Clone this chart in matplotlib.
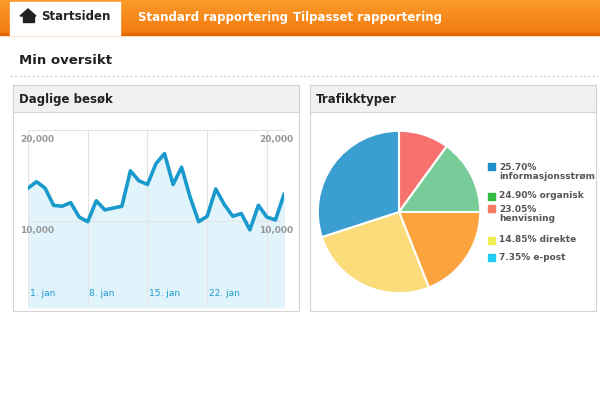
import numpy as np
import matplotlib
matplotlib.use("Agg")
import matplotlib.pyplot as plt
from matplotlib.patches import Rectangle, Polygon
from matplotlib.colors import LinearSegmentedColormap

days = list(range(1, 32))
visits = [13600, 14300, 13600, 11700, 11600, 12000, 10400, 9900, 12200, 11200, 11400, 11600,
          15500, 14400, 14000, 16300, 17400, 14000, 15900, 12600, 9900, 10500, 13500, 11800,
          10500, 10800, 9000, 11700, 10400, 10100, 12900]
date_ticks = [1, 8, 15, 22, 29]
date_labels = ["1. jan", "8. jan", "15. jan", "22. jan"]
slice_sizes = [10, 15, 19, 26, 30]
slice_colors = ["#f7716f", "#77cc99", "#fba33d", "#fbdc7a", "#3a9fd0"]
legend_labels = ["25.70%\ninformasjonsstrøm", "24.90% organisk", "23.05%\nhenvisning",
                 "14.85% direkte", "7.35% e-post"]
legend_colors = ["#1a8fcc", "#33bb44", "#f77b60", "#eeee55", "#22ccee"]
tabs = ["Startsiden", "Standard rapportering", "Tilpasset rapportering"]

fig = plt.figure(figsize=(6, 4), dpi=100)
bg = fig.add_axes([0, 0, 1, 1])
bg.set_xlim(0, 600); bg.set_ylim(400, 0); bg.axis("off")
grad = np.linspace(0, 1, 50).reshape(-1, 1)
cm = LinearSegmentedColormap.from_list("o", ["#fb9a2a", "#f27a0c"])
bg.imshow(grad, extent=[0, 600, 35, 0], cmap=cm, aspect="auto", zorder=0)
bg.add_patch(Rectangle((0, 35), 600, 365, color="white", zorder=0))
bg.add_patch(Rectangle((0, 33), 600, 2, color="#e06a00", zorder=1))
bg.add_patch(Rectangle((10, 2), 110, 33, color="white", zorder=2))
bg.add_patch(Polygon([[20, 16], [28, 9], [36, 16]], closed=True, color="#222", zorder=3))
bg.add_patch(Rectangle((22.5, 15), 11, 7, color="#222", zorder=3))
bg.text(41, 17, tabs[0], fontsize=8.5, fontweight="bold", color="#222", va="center", zorder=3)
bg.text(138, 17, tabs[1], fontsize=8.5, fontweight="bold", color="white", va="center")
bg.text(293, 17, tabs[2], fontsize=8.5, fontweight="bold", color="white", va="center")
bg.text(19, 60, "Min oversikt", fontsize=9.5, fontweight="bold", color="#222", va="center")
bg.plot([10, 598], [76, 76], ls=(0, (2, 2)), color="#ccc", lw=0.8)
for x0, x1, title in [(13, 299, "Daglige besøk"), (310, 596, "Trafikktyper")]:
    bg.add_patch(Rectangle((x0, 85), x1 - x0, 226, fc="white", ec="#d4d4d4", lw=0.8, zorder=1))
    bg.add_patch(Rectangle((x0, 85), x1 - x0, 27, fc="#f1f1f1", ec="#d4d4d4", lw=0.8, zorder=1))
    bg.text(x0 + 6, 99, title, fontsize=8.5, fontweight="bold", color="#222", va="center", zorder=2)

ax = fig.add_axes([28/600, 1 - 307/400, (284 - 28)/600, (307 - 130)/400])
ax.set_xlim(1, 31); ax.set_ylim(500, 20000)
ax.fill_between(days, visits, 500, color="#e2f4fb", zorder=1)
ax.plot(days, visits, color="#1a9acc", lw=2.6, solid_joinstyle="round", zorder=3)
for d in date_ticks:
    ax.axvline(d, color="#e3e3e3", lw=0.8, zorder=2)
for y in [10000, 20000]:
    ax.axhline(y, color="#e3e3e3", lw=0.8, zorder=2)
    ax.text(-0.03, y - 600, f"{y:,}", transform=ax.get_yaxis_transform(), fontsize=6.5,
            color="#999", fontweight="bold", va="top", ha="left", clip_on=False)
    ax.text(1.035, y - 600, f"{y:,}", transform=ax.get_yaxis_transform(), fontsize=6.5,
            color="#999", fontweight="bold", va="top", ha="right", clip_on=False)
for d, lab in zip(date_ticks, date_labels):
    ax.text(d + 0.2, 2000, lab, fontsize=6.5, color="#1a9acc", va="center")
ax.axis("off")

r = 82
cx, cy = 399, 212
pax = fig.add_axes([(cx - r)/600, 1 - (cy + r)/400, 2*r/600, 2*r/400])
pax.pie(slice_sizes, colors=slice_colors, startangle=90, counterclock=False, radius=1,
        wedgeprops=dict(edgecolor="white", linewidth=1.5))
pax.set_xlim(-1.01, 1.01); pax.set_ylim(-1.01, 1.01)
pax.set_aspect("auto")
ys = [172, 196, 214, 240, 257]
for y, lab, c in zip(ys, legend_labels, legend_colors):
    two = "\n" in lab
    bg.add_patch(Rectangle((488, y - 3.5 - (6 if two else 0)), 7, 7, color=c, zorder=3))
    bg.text(499, y, lab, fontsize=6.5, fontweight="bold", color="#555",
            va="center", linespacing=0.95, zorder=3)
fig.savefig("out.png", dpi=100)
